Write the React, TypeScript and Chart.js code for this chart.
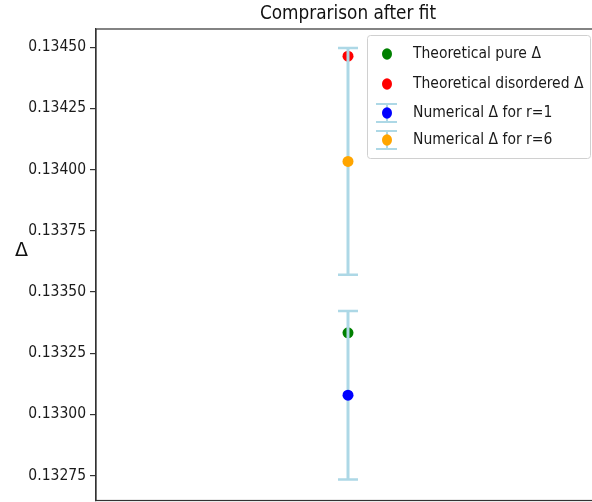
import { useEffect, useRef } from 'react';
import { Chart, registerables } from 'chart.js';

Chart.register(...registerables);

// Estimates of the scaling dimension Δ
const SERIES_LABELS = [
  'Theoretical pure Δ',
  'Theoretical disordered Δ',
  'Numerical Δ for r=1',
  'Numerical Δ for r=6',
];
const SERIES_COLORS = ['#008000', '#ff0000', '#0000ff', '#ffa500'];
const DELTA_VALUES = [0.133333, 0.134463, 0.133078, 0.134033];
// Symmetric uncertainties (null = no error bar)
const DELTA_ERRORS: (number | null)[] = [null, null, 0.000344, 0.000463];
const X_POSITION = 0;

const Y_TICKS = [0.13275, 0.133, 0.13325, 0.1335, 0.13375, 0.134, 0.13425, 0.1345];
const Y_MIN = 0.132648;
const Y_MAX = 0.134574;

const TITLE = 'Comprarison after fit';
const Y_LABEL = 'Δ';

const FONT_FAMILY = "'DejaVu Sans Condensed', 'DejaVu Sans', sans-serif";
const ERR_COLOR = '#add8e6';

const errorBarPlugin = {
  id: 'errorBars',
  beforeDatasetDraw(chart: any, args: any) {
    const i = args.index;
    const err = DELTA_ERRORS[i];
    if (err == null) return;
    const ds = chart.data.datasets[i];
    const xs = chart.scales.x;
    const ys = chart.scales.y;
    const pt = ds.data[0];
    const x = xs.getPixelForValue(pt.x);
    const yTop = ys.getPixelForValue(pt.y + err);
    const yBot = ys.getPixelForValue(pt.y - err);
    const ctx = chart.ctx;
    ctx.save();
    ctx.strokeStyle = ERR_COLOR;
    ctx.lineWidth = 3;
    ctx.beginPath();
    ctx.moveTo(x, yTop);
    ctx.lineTo(x, yBot);
    ctx.stroke();
    ctx.lineWidth = 2.5;
    ctx.beginPath();
    ctx.moveTo(x - 10, yTop);
    ctx.lineTo(x + 10, yTop);
    ctx.moveTo(x - 10, yBot);
    ctx.lineTo(x + 10, yBot);
    ctx.stroke();
    ctx.restore();
  },
};

const framePlugin = {
  id: 'frameAndText',
  beforeDatasetsDraw(chart: any) {
    const { ctx, chartArea } = chart;
    ctx.save();
    ctx.strokeStyle = '#333';
    ctx.lineWidth = 1.2;
    ctx.strokeRect(chartArea.left, chartArea.top, chartArea.right - chartArea.left, chartArea.bottom - chartArea.top);
    ctx.restore();
  },
  afterDraw(chart: any) {
    const { ctx, chartArea } = chart;
    ctx.save();
    // title
    ctx.fillStyle = '#111';
    ctx.font = `18.8px ${FONT_FAMILY}`;
    ctx.textAlign = 'center';
    ctx.textBaseline = 'alphabetic';
    ctx.fillText(TITLE, (chartArea.left + chartArea.right) / 2, 18.5);
    // y label
    ctx.font = `19px 'DejaVu Sans', sans-serif`;
    ctx.textBaseline = 'middle';
    ctx.fillText(Y_LABEL, 21.5, 251);

    // legend
    const bx = 367, by = 35, bw = 223, bh = 123;
    ctx.fillStyle = 'rgba(255,255,255,0.85)';
    ctx.strokeStyle = '#d0d0d0';
    ctx.lineWidth = 1;
    ctx.beginPath();
    ctx.roundRect(bx + 0.5, by + 0.5, bw, bh, 3);
    ctx.fill();
    ctx.stroke();
    const rows = [54, 84, 113, 140];
    const mx = 387;
    chart.data.datasets.forEach((ds: any, i: number) => {
      const y = rows[i];
      if (DELTA_ERRORS[i] != null) {
        ctx.strokeStyle = ERR_COLOR;
        ctx.lineWidth = 2;
        ctx.beginPath();
        ctx.moveTo(mx, y - 9);
        ctx.lineTo(mx, y + 9);
        ctx.moveTo(mx - 11, y - 9);
        ctx.lineTo(mx + 10, y - 9);
        ctx.moveTo(mx - 11, y + 9);
        ctx.lineTo(mx + 10, y + 9);
        ctx.stroke();
      }
      ctx.fillStyle = ds.backgroundColor;
      ctx.beginPath();
      ctx.ellipse(mx, y, 5, 5.8, 0, 0, Math.PI * 2);
      ctx.fill();
      ctx.fillStyle = '#1a1a1a';
      ctx.font = `15.5px ${FONT_FAMILY}`;
      ctx.textAlign = 'left';
      ctx.textBaseline = 'middle';
      ctx.fillText(ds.label, 413, y);
    });
    ctx.restore();
  },
};

export default function App() {
  const ref = useRef<HTMLCanvasElement | null>(null);
  useEffect(() => {
    if (!ref.current) return;
    const datasets = SERIES_LABELS.map((label, i) => ({
      type: 'scatter' as const,
      label,
      data: [{ x: X_POSITION, y: DELTA_VALUES[i] }],
      backgroundColor: SERIES_COLORS[i],
      borderColor: SERIES_COLORS[i],
      pointRadius: 5.5,
      pointBorderWidth: 0,
      order: SERIES_LABELS.length - i,
    }));
    const chart = new Chart(ref.current, {
      type: 'scatter',
      data: { datasets },
      options: {
        responsive: false,
        animation: false,
        devicePixelRatio: 1,
        layout: { padding: { left: 0, right: 20, top: 29, bottom: 3 } },
        plugins: {
          legend: { display: false },
          title: { display: false },
          tooltip: { enabled: false },
        },
        scales: {
          x: { type: 'linear', min: -1, max: 1, display: false },
          y: {
            type: 'linear',
            min: Y_MIN,
            max: Y_MAX,
            afterBuildTicks: (s: any) => {
              s.ticks = Y_TICKS.map((v) => ({ value: v }));
            },
            afterFit: (s: any) => {
              s.width = 96;
              s.paddingTop = 0;
              s.paddingBottom = 0;
            },
            ticks: {
              callback: (v: any) => Number(v).toFixed(5),
              font: { family: FONT_FAMILY, size: 15.5 },
              color: '#1a1a1a',
              padding: 4,
            },
            grid: { drawOnChartArea: false, drawTicks: true, tickLength: 6, color: '#333', lineWidth: 1.2 },
            border: { display: true, color: '#333', width: 1.2 },
          },
        },
      },
      plugins: [errorBarPlugin, framePlugin],
    });
    return () => chart.destroy();
  }, []);
  return (
    <div style={{ position: 'fixed', left: 0, top: 0, width: 592, height: 502, overflow: 'hidden', background: '#fff' }}>
      <canvas ref={ref} width={620} height={506} style={{ display: 'block' }} />
    </div>
  );
}
